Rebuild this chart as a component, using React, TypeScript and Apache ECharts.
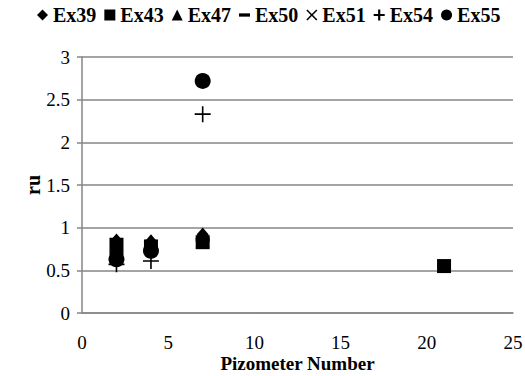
import React, { useEffect, useRef } from "react";
import * as echarts from "echarts";

const seriesNames = ["Ex39", "Ex43", "Ex47", "Ex50", "Ex51", "Ex54", "Ex55"];
const ex39: [number, number][] = [[2, 0.85], [4, 0.84], [7, 0.92]];
const ex43: [number, number][] = [[2, 0.8], [4, 0.78], [7, 0.83], [21, 0.55]];
const ex47: [number, number][] = [[2, 0.76], [4, 0.8], [7, 0.88]];
const ex50: [number, number][] = [[2, 0.7], [4, 0.75], [7, 0.86]];
const ex51: [number, number][] = [[2, 0.66], [4, 0.72], [7, 0.87]];
const ex54: [number, number][] = [[2, 0.57], [4, 0.61], [7, 2.33]];
const ex55: [number, number][] = [[2, 0.63], [4, 0.73], [7, 2.72]];
const xTicks = [0, 5, 10, 15, 20, 25];
const yTicks = [0, 0.5, 1, 1.5, 2, 2.5, 3];

const PLUS = "path://M9,0H11V9H20V11H11V20H9V11H0V9H9Z";
const CROSS = "path://M2,0L10,8L18,0L20,2L12,10L20,18L18,20L10,12L2,20L0,18L8,10L0,2Z";
const DASH = "path://M0,0H10V3H0Z";

export default function App() {
  const ref = useRef<HTMLDivElement>(null);
  useEffect(() => {
    if (!ref.current) return;
    const chart = echarts.init(ref.current, null, { renderer: "svg" });
    const font = "'Liberation Serif', 'Times New Roman', serif";
    const datas = [ex39, ex43, ex47, ex50, ex51, ex54, ex55];
    const symbols = ["diamond", "rect", "triangle", DASH, CROSS, PLUS, "circle"];
    const sizes: any[] = [[12, 14], 14, 13, [14, 4], 11, 16, 16];
    const legendIcons = ["diamond", "rect", "triangle", "path://M0,0H10V3H0Z", CROSS, "path://M8,0H12V8H20V12H12V20H8V12H0V8H8Z", "circle"];
    chart.setOption({
      animation: false,
      textStyle: { fontFamily: font, color: "#000" },
      legend: {
        top: 0,
        left: 32,
        itemWidth: 11,
        itemHeight: 11,
        itemGap: 8,
        textStyle: { fontFamily: font, fontWeight: "bold", fontSize: 20, color: "#000" },
        data: seriesNames.map((n, i) => ({ name: n, icon: legendIcons[i], itemStyle: { color: "#000" } })),
      },
      grid: { left: 82, right: 12, top: 57, bottom: 63, containLabel: false, outerBoundsMode: "none" },
      xAxis: {
        type: "value",
        min: 0,
        max: 25,
        interval: 5,
        name: "Pizometer Number",
        nameLocation: "middle",
        nameGap: 41,
        nameMoveOverlap: false,
        nameTextStyle: { fontFamily: font, fontWeight: "bold", fontSize: 19, color: "#000" },
        axisLine: { show: true, lineStyle: { color: "#868686", width: 1.5 } },
        axisTick: { show: false },
        splitLine: { show: false },
        axisLabel: { fontFamily: font, fontSize: 19, color: "#000", margin: 20,
          formatter: (v: number) => (xTicks.includes(v) ? String(v) : "") },
      },
      yAxis: {
        type: "value",
        min: 0,
        max: 3,
        interval: 0.5,
        name: "ru",
        nameLocation: "middle",
        nameGap: 39,
        nameMoveOverlap: false,
        nameRotate: 90,
        nameTextStyle: { fontFamily: font, fontWeight: "bold", fontSize: 20, color: "#000" },
        axisLine: { show: true, lineStyle: { color: "#868686", width: 1.5 } },
        axisTick: { show: true, length: 5, lineStyle: { color: "#868686", width: 1.5 } },
        splitLine: { show: true, lineStyle: { color: "#868686", width: 1.5 } },
        axisLabel: { fontFamily: font, fontSize: 19, color: "#000", margin: 12,
          formatter: (v: number) => (yTicks.includes(v) ? String(v) : "") },
      },
      series: seriesNames.map((n, i) => ({
        name: n,
        type: "scatter",
        data: datas[i],
        symbol: symbols[i],
        symbolSize: sizes[i],
        itemStyle: { color: "#000", opacity: 1 },
        emphasis: { disabled: true },
      })),
    });
    return () => chart.dispose();
  }, []);
  return <div ref={ref} style={{ width: 525, height: 376, position: "absolute", left: 0, top: 0 }} />;
}
